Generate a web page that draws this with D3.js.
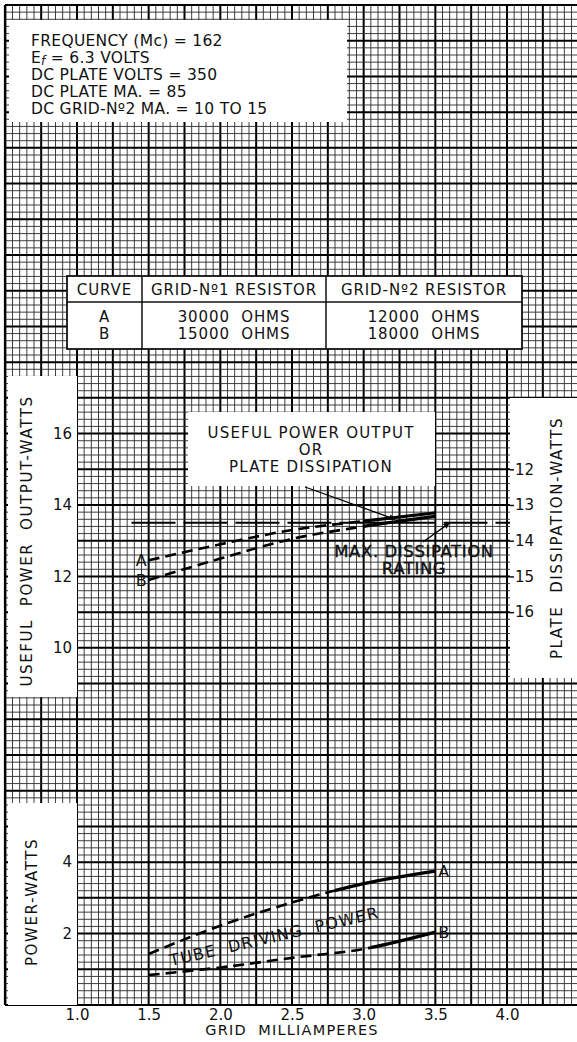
<!DOCTYPE html>
<html>
<head>
<meta charset="utf-8">
<script src="https://cdn.jsdelivr.net/npm/d3@7"></script>
<style>
  body { margin: 0; background: #fff; }
  svg text { font-family: "DejaVu Sans", sans-serif; fill: #111; }
</style>
</head>
<body>
<svg id="chart"></svg>
<script>
// values (grid current in mA, power in watts)
const gridMa = [1.5, 2.0, 2.5, 3.0, 3.5];
const outputA = [12.45, 12.9, 13.3, 13.55, 13.78];
const outputB = [11.9, 12.5, 13.05, 13.4, 13.68];
const driveA = [1.43, 2.22, 2.87, 3.4, 3.75];
const driveB = [0.84, 1.05, 1.32, 1.57, 2.04];
const maxDissipation = 13.5;
const outputPlusDissipation = 27; // right scale: dissipation = 27 - output

const xTicks = [1.0, 1.5, 2.0, 2.5, 3.0, 3.5, 4.0];
const outputTicks = [10, 12, 14, 16];
const dissipationTicks = [12, 13, 14, 15, 16];
const driveTicks = [2, 4];

const infoLines = ["FREQUENCY (Mc) = 162", "E|f| = 6.3 VOLTS", "DC PLATE VOLTS = 350", "DC PLATE MA. = 85", "DC GRID-Nº2 MA. = 10 TO 15"];
const tableHeader = ["CURVE", "GRID-Nº1 RESISTOR", "GRID-Nº2 RESISTOR"];
const tableRows = [["A", "30000  OHMS", "12000  OHMS"], ["B", "15000  OHMS", "18000  OHMS"]];

const width = 577, height = 1042;
const svg = d3.select("#chart").attr("width", width).attr("height", height);

const x = d3.scaleLinear().domain([1.0, 4.0]).range([77, 507]);
const y = d3.scaleLinear().domain([0, 28]).range([1005, 5]);
const yDiss = d3.scaleLinear().domain([outputPlusDissipation, outputPlusDissipation - 28]).range([1005, 5]);

const gLeft = 5, gRight = width, gTop = 5, gBottom = 1005;

// graph paper
const paper = svg.append("g");
const xs = d3.range(0, 81).map(i => 0.5 + i * 0.05).filter(v => x(v) >= gLeft - 0.5 && x(v) <= gRight);
const ys = d3.range(0, 141).map(i => i * 0.2);
const isMajorX = d => Math.round((d - 0.5) / 0.05) % 5 === 0;
paper.selectAll(".vx").data(xs).enter().append("line")
  .attr("x1", d => x(d)).attr("x2", d => x(d)).attr("y1", gTop).attr("y2", gBottom)
  .attr("stroke", d => isMajorX(d) ? "#000" : "#2a2a2a")
  .attr("stroke-width", d => isMajorX(d) ? 2 : 0.9);
paper.selectAll(".hy").data(ys).enter().append("line")
  .attr("x1", gLeft).attr("x2", gRight).attr("y1", d => y(d)).attr("y2", d => y(d))
  .attr("stroke", (d, i) => i % 5 === 0 ? "#000" : "#2a2a2a")
  .attr("stroke-width", (d, i) => i % 5 === 0 ? 2 : 0.9);
paper.append("line").attr("x1", gLeft).attr("x2", gLeft).attr("y1", gTop).attr("y2", gBottom)
  .attr("stroke", "#000").attr("stroke-width", 2.2);

// white label panels
const panels = [
  [9, 20, 347, 122],     // info box
  [8, 376, 77, 697],     // left label
  [510, 398, 577, 678],  // right label
  [8, 803, 77, 1005],    // lower left label
  [188, 412, 435, 486],  // annotation
  [0, 1006, 577, 1042]   // bottom margin
];
svg.selectAll(".panel").data(panels).enter().append("rect")
  .attr("x", d => d[0]).attr("y", d => d[1])
  .attr("width", d => d[2] - d[0]).attr("height", d => d[3] - d[1]).attr("fill", "#fff");

// info box
const info = svg.append("g").style("font-size", "15.5px").style("letter-spacing", "0.3px");
infoLines.forEach((s, i) => {
  const t = info.append("text").attr("x", 31).attr("y", 46 + i * 17);
  const parts = s.split("|");
  t.append("tspan").text(parts[0]);
  if (parts.length > 1) {
    t.append("tspan").attr("dy", 2).style("font-style", "italic").style("font-size", "12px").text(parts[1]);
    t.append("tspan").attr("dy", -2).text(parts[2]);
  }
});

// resistor table
const tbl = svg.append("g");
const tx = [67, 142, 326, 522], tyTop = 276, tyMid = 302, tyBot = 349;
tbl.append("rect").attr("x", tx[0]).attr("y", tyTop).attr("width", tx[3] - tx[0]).attr("height", tyBot - tyTop)
  .attr("fill", "#fff").attr("stroke", "#111").attr("stroke-width", 1.8);
tbl.append("line").attr("x1", tx[0]).attr("x2", tx[3]).attr("y1", tyMid).attr("y2", tyMid).attr("stroke", "#111").attr("stroke-width", 1.5);
[tx[1], tx[2]].forEach(v => tbl.append("line").attr("x1", v).attr("x2", v).attr("y1", tyTop).attr("y2", tyBot).attr("stroke", "#111").attr("stroke-width", 1.5));
tableHeader.forEach((h, i) => tbl.append("text").attr("x", (tx[i] + tx[i + 1]) / 2).attr("y", 294.5)
  .attr("text-anchor", "middle").style("font-size", "15px").style("letter-spacing", "0.9px").text(h));
tableRows.forEach((r, j) => r.forEach((c, i) => tbl.append("text").attr("x", (tx[i] + tx[i + 1]) / 2).attr("y", 321.5 + j * 17)
  .attr("text-anchor", "middle").style("font-size", "15px").style("letter-spacing", "0.9px").style("white-space", "pre").text(c)));

// axes
function styleAxis(g) {
  g.select(".domain").remove();
  g.selectAll("text").style("font-size", "15px").attr("fill", "#111");
  g.selectAll("line").attr("stroke", "#111").attr("stroke-width", 1.5);
}
svg.append("g").attr("transform", `translate(${x(1.0)},0)`)
  .call(d3.axisLeft(y).tickValues(outputTicks).tickSize(0).tickPadding(5)).call(styleAxis);
svg.append("g").attr("transform", `translate(${x(1.0)},0)`)
  .call(d3.axisLeft(y).tickValues(driveTicks).tickSize(0).tickPadding(5)).call(styleAxis);
svg.append("g").attr("transform", "translate(510,0)")
  .call(d3.axisRight(yDiss).tickValues(dissipationTicks).tickSize(4).tickPadding(1)).call(styleAxis);
svg.append("g").attr("transform", `translate(0,${gBottom})`)
  .call(d3.axisBottom(x).tickValues(xTicks).tickSize(0).tickPadding(4).tickFormat(d3.format(".1f"))).call(styleAxis);

// axis titles
function vLabel(cx, cy, s, size) {
  svg.append("text").attr("transform", `translate(${cx},${cy}) rotate(-90)`).attr("text-anchor", "middle")
    .attr("dy", "0.35em").style("font-size", size + "px").style("letter-spacing", "1.6px").style("white-space", "pre").text(s);
}
vLabel(27, 541, "USEFUL  POWER  OUTPUT-WATTS", 15);
vLabel(557, 538, "PLATE  DISSIPATION-WATTS", 15);
vLabel(32, 902, "POWER-WATTS", 15);
svg.append("text").attr("x", x(2.5)).attr("y", 1035).attr("text-anchor", "middle")
  .style("font-size", "14.5px").style("letter-spacing", "1.2px").style("white-space", "pre").text("GRID  MILLIAMPERES");

// clip regions for dashed / solid parts
const defs = svg.append("defs");
function clip(id, from, to) {
  defs.append("clipPath").attr("id", id).append("rect")
    .attr("x", x(from)).attr("y", 0).attr("width", x(to) - x(from)).attr("height", height);
}
const curves = [
  { key: "oa", vals: outputA, solidFrom: 3.0, w: 2.6 },
  { key: "ob", vals: outputB, solidFrom: 3.0, w: 2.6 },
  { key: "da", vals: driveA, solidFrom: 2.8, w: 2.6 },
  { key: "db", vals: driveB, solidFrom: 3.05, w: 2.6 }
];
const line = d3.line().x(d => x(d[0])).y(d => y(d[1])).curve(d3.curveMonotoneX);
curves.forEach(c => {
  const pts = gridMa.map((m, i) => [m, c.vals[i]]);
  clip(c.key + "-d", 0.5, c.solidFrom);
  clip(c.key + "-s", c.solidFrom, 4.6);
  svg.append("path").attr("d", line(pts)).attr("fill", "none").attr("stroke", "#000")
    .attr("stroke-width", c.w).attr("stroke-dasharray", "11,6").attr("clip-path", `url(#${c.key}-d)`);
  svg.append("path").attr("d", line(pts)).attr("fill", "none").attr("stroke", "#000")
    .attr("stroke-width", c.w + 0.6).attr("clip-path", `url(#${c.key}-s)`);
});

// max dissipation rating line
svg.append("line").attr("x1", x(1.38)).attr("x2", 510).attr("y1", yDiss(maxDissipation)).attr("y2", yDiss(maxDissipation))
  .attr("stroke", "#000").attr("stroke-width", 2).attr("stroke-dasharray", "44,8");

// curve letters
const letters = svg.append("g").style("font-size", "16px");
letters.append("text").attr("x", x(gridMa[0]) - 2).attr("y", y(outputA[0])).attr("dy", "0.35em").attr("text-anchor", "end").text("A");
letters.append("text").attr("x", x(gridMa[0]) - 2).attr("y", y(outputB[0])).attr("dy", "0.35em").attr("text-anchor", "end").text("B");
letters.append("text").attr("x", x(3.5) + 3).attr("y", y(driveA[4])).attr("dy", "0.35em").text("A");
letters.append("text").attr("x", x(3.5) + 3).attr("y", y(driveB[4])).attr("dy", "0.35em").text("B");

// annotations
const ann = svg.append("g").style("font-size", "15px").style("letter-spacing", "1.2px").attr("text-anchor", "middle");
ann.append("text").attr("x", 311).attr("y", 438).text("USEFUL POWER OUTPUT");
ann.append("text").attr("x", 311).attr("y", 455).text("OR");
ann.append("text").attr("x", 311).attr("y", 472).text("PLATE DISSIPATION");
const ann2 = svg.append("g").style("font-size", "16.5px").style("letter-spacing", "0.6px")
  .attr("text-anchor", "middle").attr("stroke", "#111").attr("stroke-width", 0.4);
ann2.append("text").attr("x", 414).attr("y", 557).text("MAX. DISSIPATION");
ann2.append("text").attr("x", 414).attr("y", 574).text("RATING");
svg.append("text").attr("transform", `translate(171,966) rotate(-13)`).style("font-size", "16px")
  .style("letter-spacing", "1.2px").style("white-space", "pre").text("TUBE  DRIVING  POWER");

defs.append("marker").attr("id", "arr").attr("viewBox", "0 0 10 10").attr("refX", 10).attr("refY", 5)
  .attr("markerWidth", 10).attr("markerHeight", 6).attr("orient", "auto").attr("markerUnits", "userSpaceOnUse")
  .append("path").attr("d", "M0,0 L10,5 L0,10 Z").attr("fill", "#000");
svg.append("line").attr("x1", 305).attr("y1", 487).attr("x2", x(3.22)).attr("y2", y(13.6))
  .attr("stroke", "#000").attr("stroke-width", 1.3).attr("marker-end", "url(#arr)");
svg.append("line").attr("x1", 423).attr("y1", 542).attr("x2", x(3.6)).attr("y2", yDiss(maxDissipation))
  .attr("stroke", "#000").attr("stroke-width", 1.3).attr("marker-end", "url(#arr)");
</script>
</body>
</html>
